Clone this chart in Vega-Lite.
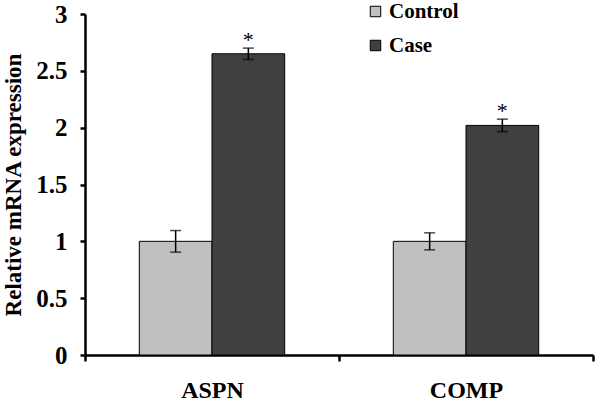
{
  "$schema": "https://vega.github.io/schema/vega-lite/v6.json",
  "width": 508,
  "height": 341,
  "autosize": "none",
  "padding": {"left": 85, "top": 14, "right": 3, "bottom": 46},
  "background": "white",
  "config": {
    "view": {"stroke": null},
    "font": "Liberation Serif"
  },
  "data": {
    "values": [
      {"gene": "ASPN", "group": "Control", "value": 1.0, "err": 0.095, "star": ""},
      {"gene": "ASPN", "group": "Case", "value": 2.65, "err": 0.05, "star": "*"},
      {"gene": "COMP", "group": "Control", "value": 1.0, "err": 0.075, "star": ""},
      {"gene": "COMP", "group": "Case", "value": 2.02, "err": 0.055, "star": "*"}
    ]
  },
  "transform": [
    {"calculate": "datum.value - datum.err", "as": "lo"},
    {"calculate": "datum.value + datum.err", "as": "hi"}
  ],
  "encoding": {
    "x": {
      "field": "gene", "type": "nominal", "sort": ["ASPN", "COMP"],
      "scale": {"paddingInner": 0, "paddingOuter": 0},
      "axis": {
        "title": null, "labelAngle": 0, "domainColor": "black", "domainWidth": 2.5,
        "tickBand": "extent", "tickColor": "black", "tickWidth": 2.5, "tickSize": 6,
        "labelFont": "Liberation Serif", "labelFontWeight": "bold", "labelFontSize": 24,
        "labelColor": "black", "labelPadding": 17
      }
    },
    "xOffset": {
      "field": "group", "type": "nominal", "sort": ["Control", "Case"],
      "scale": {"paddingInner": 0, "paddingOuter": 0.747}
    }
  },
  "layer": [
    {
      "mark": {"type": "bar", "stroke": "black", "strokeWidth": 1},
      "encoding": {
        "y": {
          "field": "value", "type": "quantitative",
          "scale": {"domain": [0, 3]},
          "axis": {
            "title": "Relative mRNA expression", "values": [0, 0.5, 1, 1.5, 2, 2.5, 3],
            "format": ".1~f",
            "grid": false, "domainColor": "black", "domainWidth": 2.5,
            "tickColor": "black", "tickWidth": 2.5, "tickSize": 5,
            "labelFont": "Liberation Serif", "labelFontWeight": "bold", "labelFontSize": 25,
            "labelColor": "black", "labelPadding": 13,
            "titleFont": "Liberation Serif", "titleFontWeight": "bold", "titleFontSize": 23,
            "titleColor": "black", "titlePadding": 10
          }
        },
        "color": {
          "field": "group", "type": "nominal", "sort": ["Control", "Case"],
          "scale": {"domain": ["Control", "Case"], "range": ["#c0c0c0", "#404040"]},
          "legend": {
            "title": null, "orient": "none", "legendX": 280, "legendY": -13,
            "symbolType": "square", "symbolSize": 110, "symbolStrokeColor": "black",
            "symbolStrokeWidth": 1, "symbolOpacity": 1,
            "labelFont": "Liberation Serif", "labelFontWeight": "bold", "labelFontSize": 21,
            "labelColor": "black", "rowPadding": 12, "labelOffset": 3
          }
        }
      }
    },
    {
      "mark": {"type": "rule", "color": "black", "strokeWidth": 1.5},
      "encoding": {
        "y": {"field": "lo", "type": "quantitative"},
        "y2": {"field": "hi"}
      }
    },
    {
      "mark": {"type": "tick", "color": "black", "thickness": 1.5, "size": 11, "orient": "horizontal"},
      "encoding": {"y": {"field": "lo", "type": "quantitative"}}
    },
    {
      "mark": {"type": "tick", "color": "black", "thickness": 1.5, "size": 11, "orient": "horizontal"},
      "encoding": {"y": {"field": "hi", "type": "quantitative"}}
    },
    {
      "mark": {"type": "text", "font": "Liberation Serif", "fontSize": 22, "color": "black", "dy": 4, "baseline": "bottom"},
      "encoding": {
        "y": {"field": "hi", "type": "quantitative"},
        "text": {"field": "star"}
      }
    }
  ]
}
